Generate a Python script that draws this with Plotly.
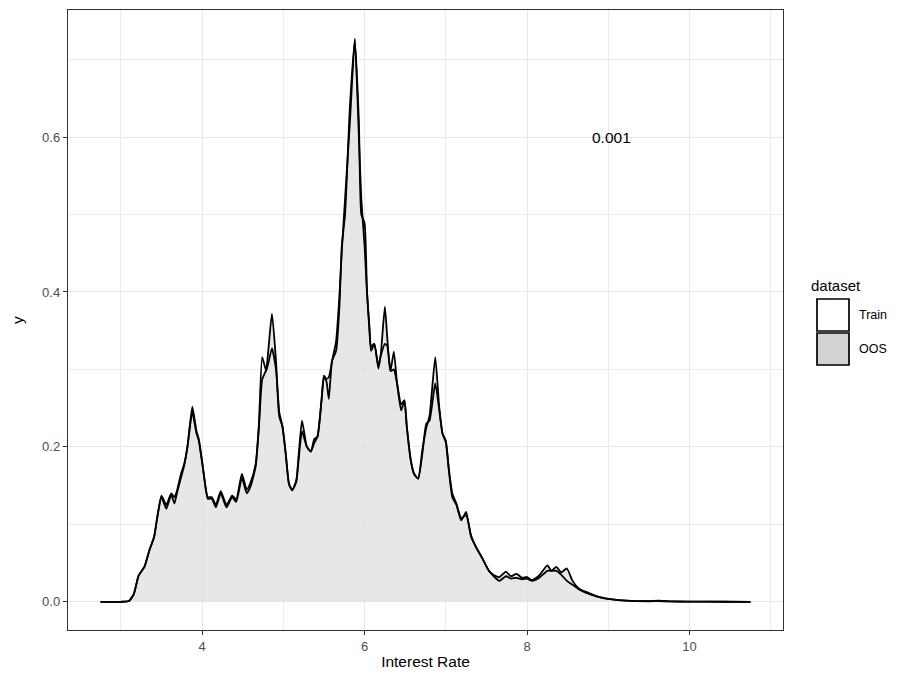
import plotly.graph_objects as go

x_vals = [2.75, 3.0, 3.10, 3.16, 3.22, 3.29, 3.35, 3.41, 3.45, 3.50, 3.56, 3.62, 3.66, 3.69, 3.74, 3.78,
          3.82, 3.88, 3.93, 3.96, 4.00, 4.05, 4.07, 4.12, 4.17, 4.23, 4.30, 4.37, 4.42, 4.49, 4.55, 4.60,
          4.66, 4.70, 4.74, 4.79, 4.86, 4.91, 4.95, 4.99, 5.03, 5.07, 5.11, 5.16, 5.19, 5.23, 5.29, 5.34,
          5.38, 5.42, 5.47, 5.50, 5.53, 5.56, 5.60, 5.65, 5.69, 5.72, 5.76, 5.82, 5.88, 5.93, 5.96, 6.00,
          6.03, 6.06, 6.08, 6.12, 6.17, 6.20, 6.25, 6.28, 6.32, 6.36, 6.40, 6.45, 6.49, 6.52, 6.57, 6.61,
          6.66, 6.71, 6.76, 6.80, 6.87, 6.92, 6.96, 7.00, 7.04, 7.08, 7.13, 7.19, 7.25, 7.31, 7.37, 7.45,
          7.53, 7.60, 7.66, 7.74, 7.80, 7.87, 7.94, 8.00, 8.06, 8.15, 8.25, 8.30, 8.36, 8.42, 8.49, 8.56,
          8.64, 8.77, 8.89, 9.05, 9.22, 9.5, 9.62, 9.75, 10.0, 10.4, 10.75]

oos_density = [0, 0, 0.001, 0.010, 0.034, 0.045, 0.066, 0.084, 0.110, 0.137, 0.125, 0.140, 0.135, 0.143, 0.165, 0.178,
               0.200, 0.252, 0.221, 0.210, 0.182, 0.143, 0.135, 0.135, 0.125, 0.143, 0.125, 0.137, 0.132, 0.165, 0.145, 0.155,
               0.178, 0.226, 0.287, 0.300, 0.372, 0.311, 0.239, 0.226, 0.191, 0.152, 0.144, 0.157, 0.191, 0.234, 0.200, 0.194,
               0.210, 0.213, 0.260, 0.292, 0.288, 0.290, 0.311, 0.337, 0.394, 0.453, 0.520, 0.620, 0.727, 0.600, 0.520, 0.460,
               0.400, 0.355, 0.330, 0.333, 0.301, 0.320, 0.381, 0.340, 0.298, 0.300, 0.282, 0.255, 0.260, 0.226, 0.182, 0.165,
               0.159, 0.195, 0.225, 0.240, 0.316, 0.250, 0.217, 0.206, 0.167, 0.135, 0.125, 0.105, 0.116, 0.084, 0.071, 0.056,
               0.040, 0.034, 0.032, 0.039, 0.033, 0.036, 0.031, 0.032, 0.028, 0.034, 0.047, 0.040, 0.045, 0.038, 0.043, 0.027,
               0.017, 0.011, 0.006, 0.003, 0.0015, 0.0008, 0.0015, 0.0006, 0.0003, 0.0001, 0]

train_density = [0, 0, 0.001, 0.010, 0.034, 0.045, 0.066, 0.084, 0.110, 0.135, 0.120, 0.138, 0.127, 0.140, 0.160, 0.176,
                 0.200, 0.245, 0.218, 0.208, 0.180, 0.143, 0.133, 0.133, 0.122, 0.140, 0.122, 0.135, 0.129, 0.160, 0.140, 0.150,
                 0.175, 0.230, 0.316, 0.298, 0.327, 0.300, 0.245, 0.226, 0.191, 0.152, 0.144, 0.155, 0.185, 0.220, 0.200, 0.194,
                 0.205, 0.213, 0.260, 0.290, 0.285, 0.262, 0.311, 0.324, 0.380, 0.460, 0.500, 0.640, 0.725, 0.620, 0.500, 0.489,
                 0.400, 0.350, 0.324, 0.333, 0.305, 0.318, 0.333, 0.330, 0.298, 0.323, 0.282, 0.247, 0.260, 0.226, 0.182, 0.165,
                 0.159, 0.190, 0.230, 0.234, 0.282, 0.247, 0.217, 0.208, 0.169, 0.140, 0.127, 0.108, 0.112, 0.086, 0.071, 0.056,
                 0.040, 0.032, 0.027, 0.033, 0.030, 0.031, 0.029, 0.030, 0.027, 0.031, 0.040, 0.040, 0.040, 0.035, 0.027, 0.022,
                 0.016, 0.010, 0.006, 0.003, 0.0015, 0.0007, 0.0008, 0.0005, 0.0003, 0.0001, 0]

x_ticks = [4, 6, 8, 10]
y_ticks = [0.0, 0.2, 0.4, 0.6]
y_tick_text = ["0.0", "0.2", "0.4", "0.6"]
annotation_text = "0.001"
legend_title = "dataset"
legend_labels = ["Train", "OOS"]

FONT = "Liberation Sans, Arial, sans-serif"
LINE = dict(color="black", width=1.8, shape="spline", smoothing=0.5)

fig = go.Figure()
# fills first
fig.add_trace(go.Scatter(x=x_vals, y=train_density, mode="lines", name="Train",
                         line=dict(width=0, shape="spline", smoothing=0.5),
                         fill="tozeroy", fillcolor="rgba(255,255,255,0.5)", showlegend=False,
                         hoverinfo="skip"))
fig.add_trace(go.Scatter(x=x_vals, y=oos_density, mode="lines", name="OOS",
                         line=dict(width=0, shape="spline", smoothing=0.5),
                         fill="tozeroy", fillcolor="rgba(211,211,211,0.55)", showlegend=False,
                         hoverinfo="skip"))
# outlines on top
fig.add_trace(go.Scatter(x=x_vals, y=train_density, mode="lines", name="Train",
                         line=LINE, showlegend=False))
fig.add_trace(go.Scatter(x=x_vals, y=oos_density, mode="lines", name="OOS",
                         line=LINE, showlegend=False))

fig.add_annotation(x=9.04, y=0.6, text=annotation_text, showarrow=False,
                   font=dict(family=FONT, size=15.5, color="black"))

# manual legend (ggplot-style)
pw, ph = 715.0, 620.0
def px_x(p):
    return (p - 68) / pw
def px_y(p):
    return (630 - p) / ph

fig.add_annotation(xref="paper", yref="paper", x=px_x(809), y=px_y(285), text=legend_title,
                   showarrow=False, xanchor="left", yanchor="middle",
                   font=dict(family=FONT, size=15, color="black"))
key_fills = ["white", "#D3D3D3"]
key_tops = [299, 333]
for lab, fc, top in zip(legend_labels, key_fills, key_tops):
    fig.add_shape(type="rect", xref="paper", yref="paper",
                  x0=px_x(817), x1=px_x(849), y0=px_y(top), y1=px_y(top + 32),
                  fillcolor=fc, line=dict(color="black", width=1.7))
    fig.add_annotation(xref="paper", yref="paper", x=px_x(857), y=px_y(top + 16), text=lab,
                       showarrow=False, xanchor="left", yanchor="middle",
                       font=dict(family=FONT, size=12.5, color="black"))

fig.update_layout(
    width=903, height=679,
    margin=dict(l=68, r=120, t=10, b=49),
    paper_bgcolor="white", plot_bgcolor="white",
    font=dict(family=FONT),
    showlegend=False,
)
fig.update_xaxes(
    range=[2.35, 11.15], tickvals=x_ticks, ticktext=[str(v) for v in x_ticks],
    showgrid=True, gridcolor="#E8E8E8", gridwidth=1.3,
    minor=dict(tickvals=[3, 5, 7, 9, 11], showgrid=True, gridcolor="#EBEBEB", gridwidth=0.7),
    showline=True, linecolor="#333333", linewidth=1.4, mirror=True,
    ticks="outside", ticklen=4, tickcolor="#333333", tickwidth=1.2,
    tickfont=dict(family=FONT, size=13, color="#4D4D4D"),
    zeroline=False,
    title=dict(text="Interest Rate", font=dict(family=FONT, size=15.5, color="black"), standoff=3),
)
fig.update_yaxes(
    range=[-0.0364, 0.764], tickvals=y_ticks, ticktext=y_tick_text,
    showgrid=True, gridcolor="#E8E8E8", gridwidth=1.3,
    minor=dict(tickvals=[0.1, 0.3, 0.5, 0.7], showgrid=True, gridcolor="#EBEBEB", gridwidth=0.7),
    showline=True, linecolor="#333333", linewidth=1.4, mirror=True,
    ticks="outside", ticklen=4, tickcolor="#333333", tickwidth=1.2,
    tickfont=dict(family=FONT, size=13, color="#4D4D4D"),
    zeroline=False,
    title=dict(text="y", font=dict(family=FONT, size=15.5, color="black"), standoff=14),
)

fig.write_html("out.html")
